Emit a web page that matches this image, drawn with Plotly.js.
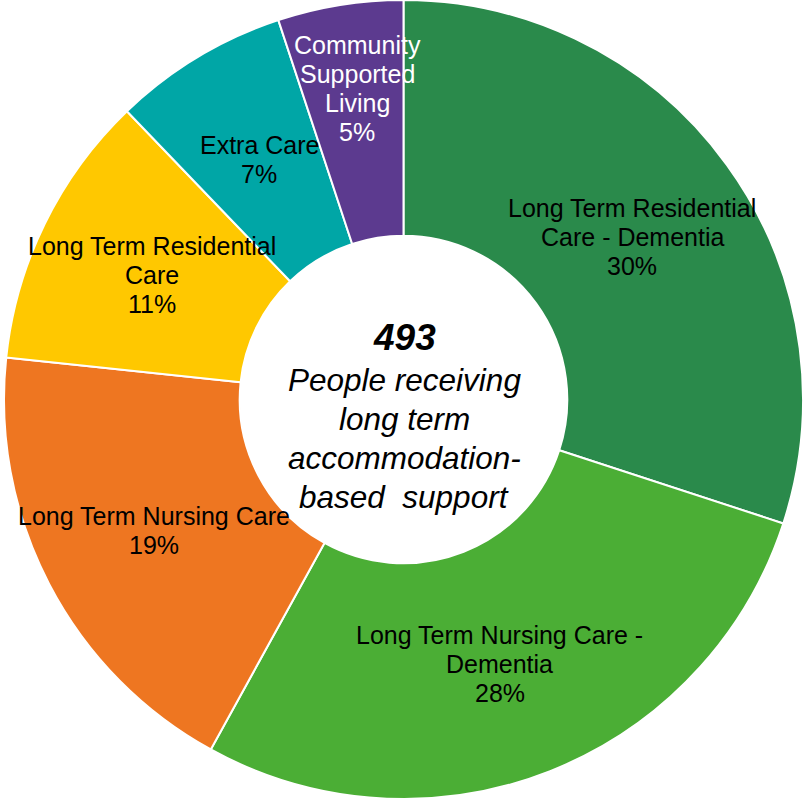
<!DOCTYPE html>
<html>
<head>
<meta charset="utf-8">
<script src="https://cdn.plot.ly/plotly-3.0.1.min.js"></script>
<style>html,body{margin:0;padding:0;background:#fff;}#chart{width:807px;height:799px;}</style>
</head>
<body>
<div id="chart"></div>
<script>
// Data
const categories = [
  "Long Term Residential Care - Dementia",
  "Long Term Nursing Care - Dementia",
  "Long Term Nursing Care",
  "Long Term Residential Care",
  "Extra Care",
  "Community Supported Living"
];
const displayLines = [
  ["Long Term Residential", "Care - Dementia"],
  ["Long Term Nursing Care -", "Dementia"],
  ["Long Term Nursing Care"],
  ["Long Term Residential", "Care"],
  ["Extra Care"],
  ["Community", "Supported", "Living"]
];
const values = [148, 138, 92, 55, 35, 25];
const totalLabel = "493";
const centerLines = ["People receiving", "long term", "accommodation-", "based  support"];

// Styles
const colors = ["#2A8A4B", "#4BAE35", "#EE7621", "#FFC800", "#00A6A6", "#5C3A8F"];
const textColors = ["#000", "#000", "#000", "#000", "#000", "#fff"];
// label block positions in pixels (x center, y of first line) — layout only
const labelPos = [[632, 208], [500, 635], [154, 516], [152, 246], [259, 145], [357, 45]];
const lineGap = 29;

const W = 807, H = 799;
const total = values.reduce((a, b) => a + b, 0);
const px = x => x / W, py = y => 1 - y / H;
const FONT = "Liberation Sans, Arial, sans-serif";

const annotations = [];
function addLine(text, x, y, size, color) {
  annotations.push({
    text: text, x: px(x), y: py(y), xref: "paper", yref: "paper", showarrow: false,
    xanchor: "center", yanchor: "middle", align: "center",
    font: {family: FONT, size: size, color: color}
  });
}
displayLines.forEach((lines, i) => {
  const all = lines.concat([Math.round(values[i] / total * 100) + "%"]);
  all.forEach((t, k) => addLine(t, labelPos[i][0], labelPos[i][1] + k * lineGap, 25, textColors[i]));
});
addLine("<b><i>" + totalLabel + "</i></b>", 405, 337, 37, "#000");
centerLines.forEach((t, k) => addLine("<i>" + t + "</i>", 404, 380 + k * 39, 31.5, "#000"));

const trace = {
  type: "pie",
  labels: categories,
  values: values,
  hole: 0.41,
  sort: false,
  direction: "clockwise",
  rotation: 0,
  textinfo: "none",
  hoverinfo: "none",
  marker: {colors: colors, line: {color: "#ffffff", width: 2}},
  domain: {x: [0, 1], y: [0, 1]}
};

const layout = {
  width: W, height: H,
  margin: {l: 0, r: 0, t: 0, b: 0},
  showlegend: false,
  paper_bgcolor: "#ffffff",
  annotations: annotations
};

Plotly.newPlot("chart", [trace], layout, {displayModeBar: false, staticPlot: true});
</script>
</body>
</html>
